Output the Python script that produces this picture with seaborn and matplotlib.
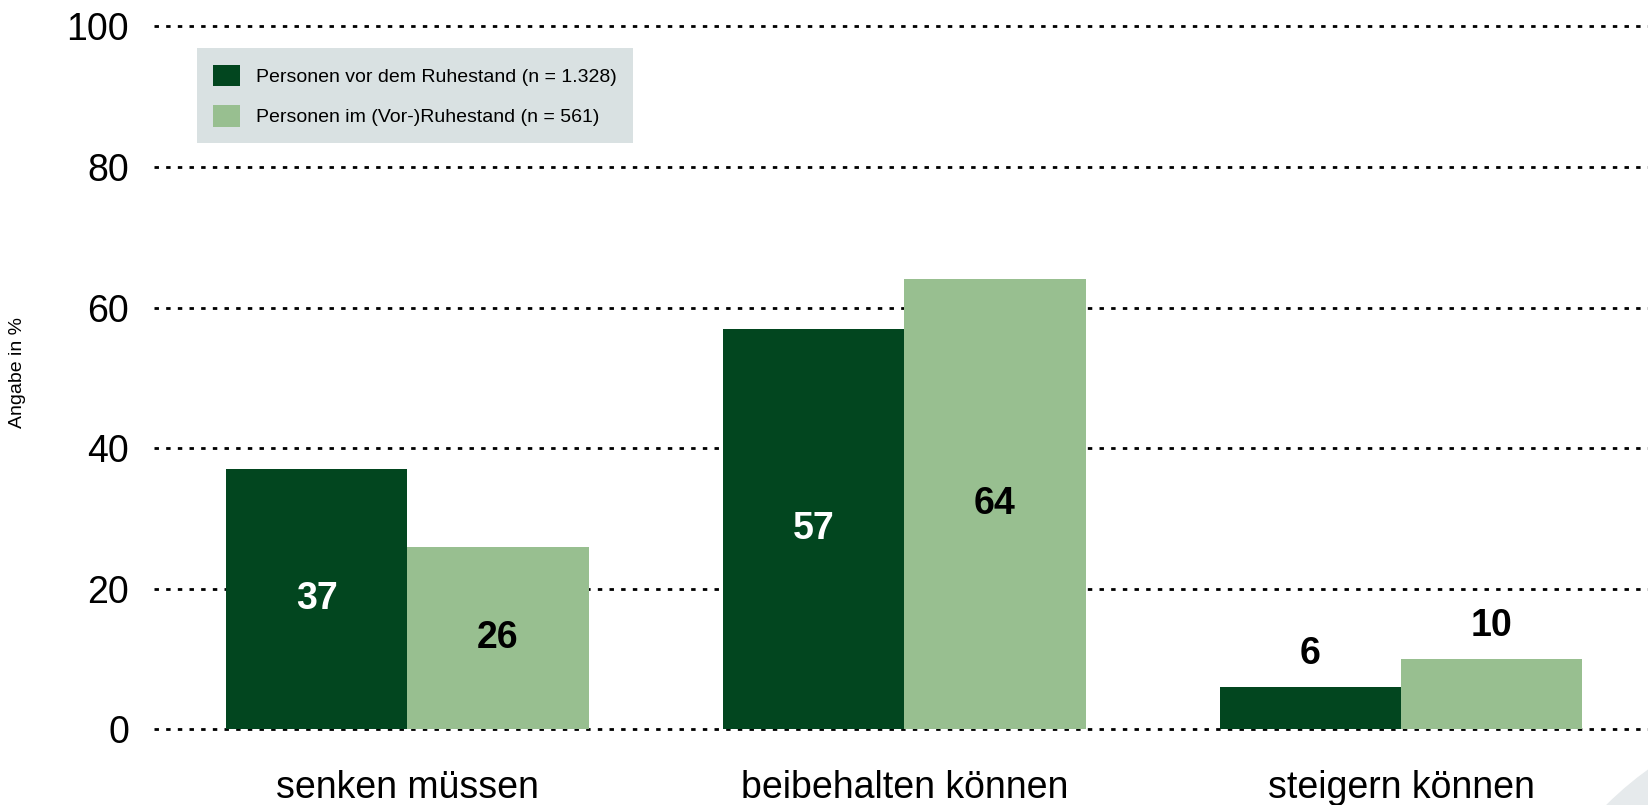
import numpy as np
import pandas as pd
import seaborn as sns
import matplotlib.pyplot as plt

categories = ["senken müssen", "beibehalten können", "steigern können"]
groups = ["Personen vor dem Ruhestand (n = 1.328)", "Personen im (Vor-)Ruhestand (n = 561)"]
vor_ruhestand = [37, 57, 6]
im_ruhestand = [26, 64, 10]
yticks = [0, 20, 40, 60, 80, 100]

dark = "#02461f"
light = "#98bf90"

df = pd.DataFrame({
    "Kategorie": categories * 2,
    "Gruppe": [groups[0]] * 3 + [groups[1]] * 3,
    "Wert": vor_ruhestand + im_ruhestand,
})

sns.set_style("white")
plt.rcParams["font.family"] = ["Liberation Sans", "DejaVu Sans"]

fig = plt.figure(figsize=(16.48, 8.05), dpi=100)
ax = fig.add_axes([0.0934, 0.0938, 0.9066, 0.8735])

# faint decorative arc bottom right
circ = plt.Circle((1850, -245), 345, transform=None, color="#e6eaec", zorder=0)
fig.patches.append(circ)

sns.barplot(data=df, x="Kategorie", y="Wert", hue="Gruppe", hue_order=groups,
            palette=[dark, light], saturation=1, width=0.73, gap=0, ax=ax,
            linewidth=0, zorder=3)

ax.set_ylim(0, 100)
ax.set_xlim(-0.51, 2.497)
ax.set_yticks(yticks)
ax.yaxis.grid(True, color="black", linewidth=2.0, linestyle=(0, (1.6, 2.6)), clip_on=False)
ax.set_axisbelow(True)
for s in ax.spines.values():
    s.set_visible(False)
ax.tick_params(axis="both", length=0, labelsize=27, labelcolor="black")
ax.tick_params(axis="y", pad=18)
ax.tick_params(axis="x", pad=29)
ax.set_xlabel("")
ax.set_ylabel("Angabe in %", fontsize=14, color="black")
ax.yaxis.set_label_coords(-0.0857, 0.507)

# value labels
for i, cont in enumerate(ax.containers):
    for bar, val in zip(cont, [vor_ruhestand, im_ruhestand][i]):
        h = bar.get_height()
        cx = bar.get_x() + bar.get_width() / 2
        if h >= 20:
            ax.text(cx, h / 2, f"{val}", ha="center", va="center", fontsize=27,
                    fontweight="bold", color="white" if i == 0 else "black", zorder=5)
        else:
            ax.annotate(f"{val}", (cx, h), xytext=(0, 11), textcoords="offset points",
                        ha="center", va="bottom", fontsize=27, fontweight="bold",
                        color="black", zorder=5)

leg = ax.legend(loc="upper left", bbox_to_anchor=(0.0288, 0.969), borderaxespad=0,
                frameon=True, fancybox=False, facecolor="#d9e1e2", edgecolor="none",
                framealpha=1, prop={"size": 14},
                handlelength=1.34, handleheight=1.34, handletextpad=0.85,
                labelspacing=0.95, borderpad=0.85)
for t in leg.get_texts():
    t.set_color("black")

fig.savefig("out.png", dpi=100)
